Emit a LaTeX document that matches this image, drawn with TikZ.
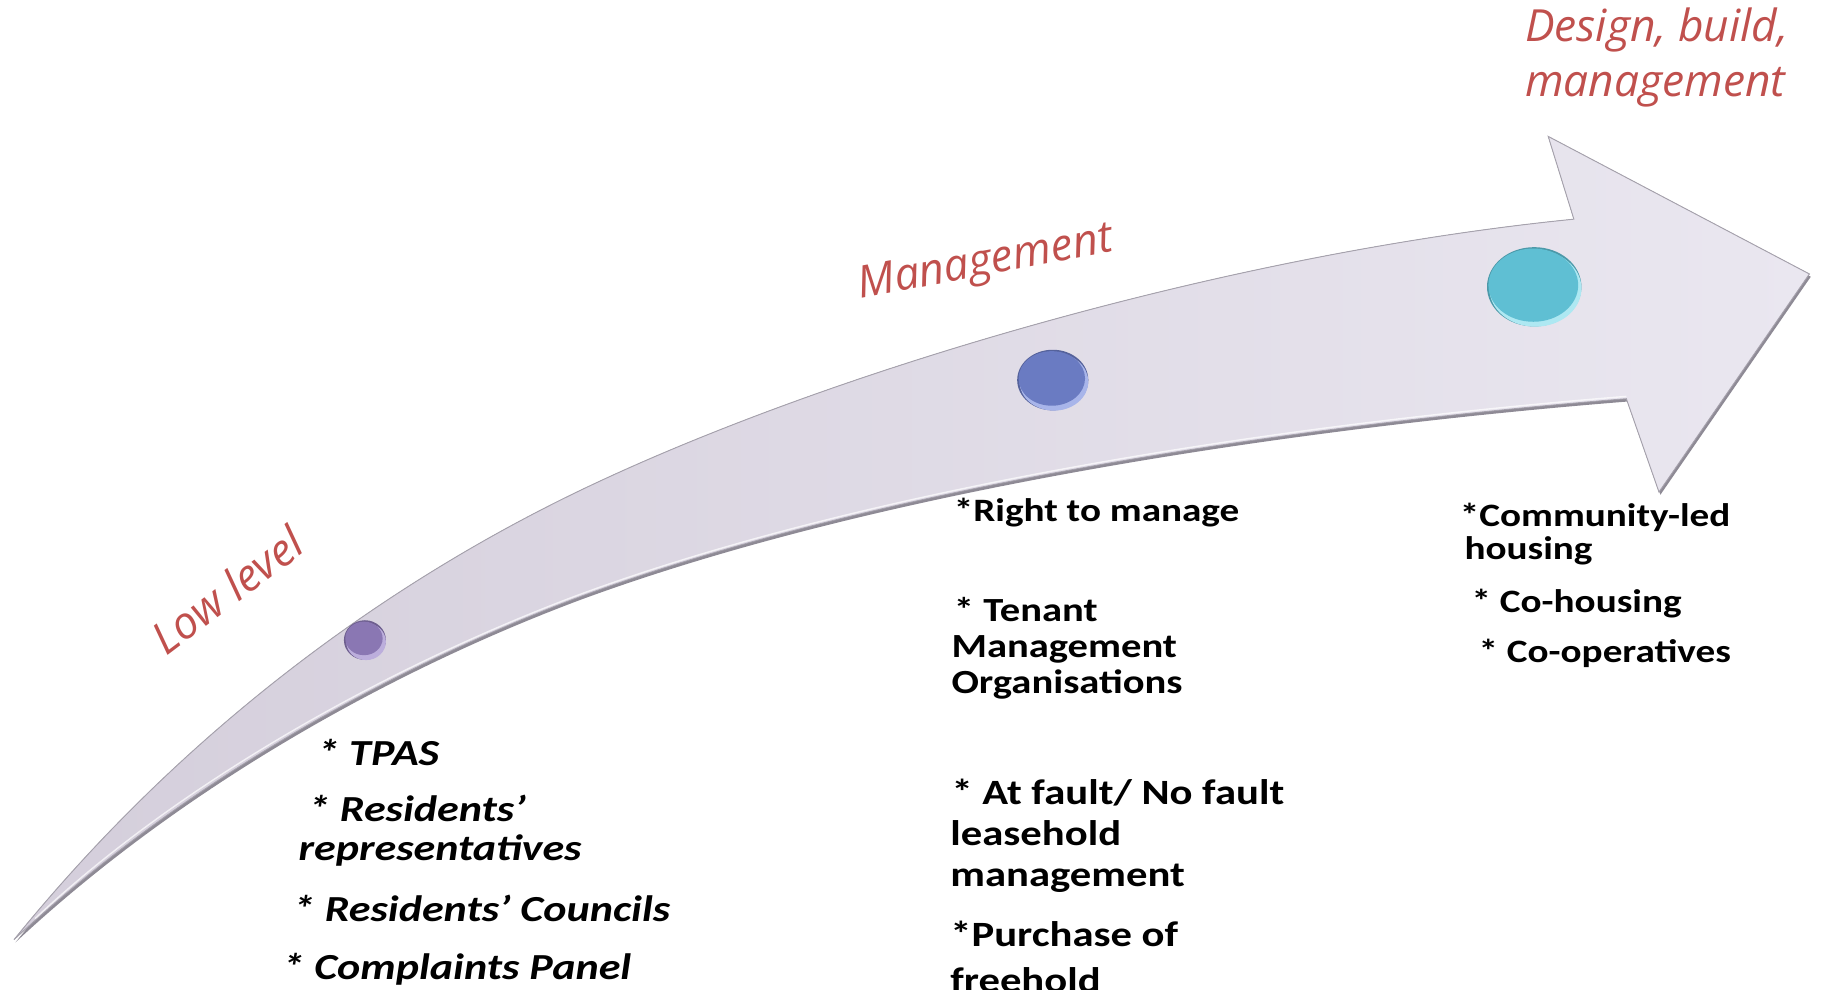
\documentclass[tikz,border=0pt]{standalone}
\usepackage{fontspec}
\newfontfamily\itemfont[FakeStretch=1.2]{Carlito}
\newfontfamily\stagefont{Open Sans}
\definecolor{stagered}{HTML}{C0504D}
\definecolor{arrowleft}{HTML}{D4CEDB}
\definecolor{arrowright}{HTML}{EAE7F0}
\definecolor{arrowedge}{HTML}{A6A2AD}
\definecolor{arrowshade}{HTML}{8E8A95}
\definecolor{purpleface}{HTML}{8A77B3}
\definecolor{purplerim}{HTML}{BCAEDC}
\definecolor{blueface}{HTML}{6A7BC2}
\definecolor{bluerim}{HTML}{A8B5EA}
\definecolor{tealface}{HTML}{5FBFD3}
\definecolor{tealrim}{HTML}{AEE8F2}

% a raised round button: x, y, x radius, y radius, face colour, rim colour
\newcommand\stagedot[6]{%
  \fill[#5!80!black] (#1,#2) ellipse [x radius=#3, y radius=#4];
  \fill[#6] (#1+1,#2+1.4) ellipse [x radius=#3-1, y radius=#4-1.2];
  \fill[#5] (#1-0.8,#2-1.4) ellipse [x radius=#3-2, y radius=#4-2.6];
}

% outline of the curved arrow
\newcommand\arrowoutline{%
  (12,806) .. controls (162,621) and (337,498) .. (497,421)
  .. controls (707,320) and (1050,218) .. (1350,188)
  -- (1328,117) -- (1552,235) -- (1423,422) -- (1395,342)
  .. controls (1095,366) and (747,420) .. (497,512)
  .. controls (347,568) and (162,666) .. (12,806) -- cycle}

\begin{document}
\begin{tikzpicture}[x=1pt,y=-1pt,
  stage/.style={text=stagered, inner sep=0pt, anchor=base west,
    font=\stagefont\itshape\fontsize{38}{47}\selectfont},
  lowitem/.style={inner sep=0pt, anchor=base west,
    font=\itemfont\bfseries\itshape\fontsize{31.5}{34}\selectfont},
  tenantitem/.style={inner sep=0pt, anchor=base west,
    font=\itemfont\bfseries\fontsize{29}{31}\selectfont},
  faultitem/.style={inner sep=0pt, anchor=base west,
    font=\itemfont\bfseries\fontsize{30.5}{34}\selectfont},
  highitem/.style={inner sep=0pt, anchor=base west,
    font=\itemfont\bfseries\fontsize{28}{30}\selectfont}]

\useasboundingbox (0,0) rectangle (1568,849);
\fill[white] (0,0) rectangle (1568,849);

% shadow rim under the arrow body
\fill[arrowshade, transform canvas={shift={(1.2pt,-2.4pt)}}] \arrowoutline;

% curved arrow body
\fill[left color=arrowleft, right color=arrowright, draw=arrowedge, line width=0.8pt]
  \arrowoutline;

% light bevel along the lower edge
\draw[white, opacity=0.7, line width=1.2pt, transform canvas={shift={(0pt,2pt)}}]
  (1395,342) .. controls (1095,366) and (747,420) .. (497,512)
  .. controls (347,568) and (162,666) .. (30,790);

% stage buttons
\stagedot{313}{549}{18}{17}{purpleface}{purplerim}
\stagedot{903}{326}{30.5}{26}{blueface}{bluerim}
\stagedot{1316}{246}{40.5}{34}{tealface}{tealrim}

% stage names
\node[stage, rotate=37] (lowlevel) at (143,563) {Low level};
\node[stage, rotate=10.5] (management) at (738,256) {Management};
\node[stage] (design) at (1308,36) {Design, build,};
\node[stage] (designb) at (1308,83) {management};

% low level items
\node[lowitem] (tpas) at (272,657) {* TPAS};
\node[lowitem] (reps) at (264,705) {* Residents’};
\node[lowitem] (repsb) at (256,738) {representatives};
\node[lowitem] (councils) at (251,790) {* Residents’ Councils};
\node[lowitem] (panel) at (242,840) {* Complaints Panel};

% management items
\node[highitem] (rtm) at (818,447) {*Right to manage};
\node[tenantitem] (tmo) at (818,533) {* Tenant};
\node[tenantitem] (tmob) at (816,564) {Management};
\node[tenantitem] (tmoc) at (816,595) {Organisations};
\node[faultitem] (fault) at (816,690) {* At fault/ No fault};
\node[faultitem] (faultb) at (815,725) {leasehold};
\node[faultitem] (faultc) at (815,760) {management};
\node[faultitem] (freehold) at (815,812) {*Purchase of};
\node[faultitem] (freeholdb) at (815,851) {freehold};

% design, build, management items
\node[highitem] (clh) at (1252,452) {*Community-led};
\node[highitem] (clhb) at (1256,480) {housing};
\node[highitem] (cohousing) at (1262,525) {* Co-housing};
\node[highitem] (coops) at (1268,568) {* Co-operatives};
\end{tikzpicture}
\end{document}
